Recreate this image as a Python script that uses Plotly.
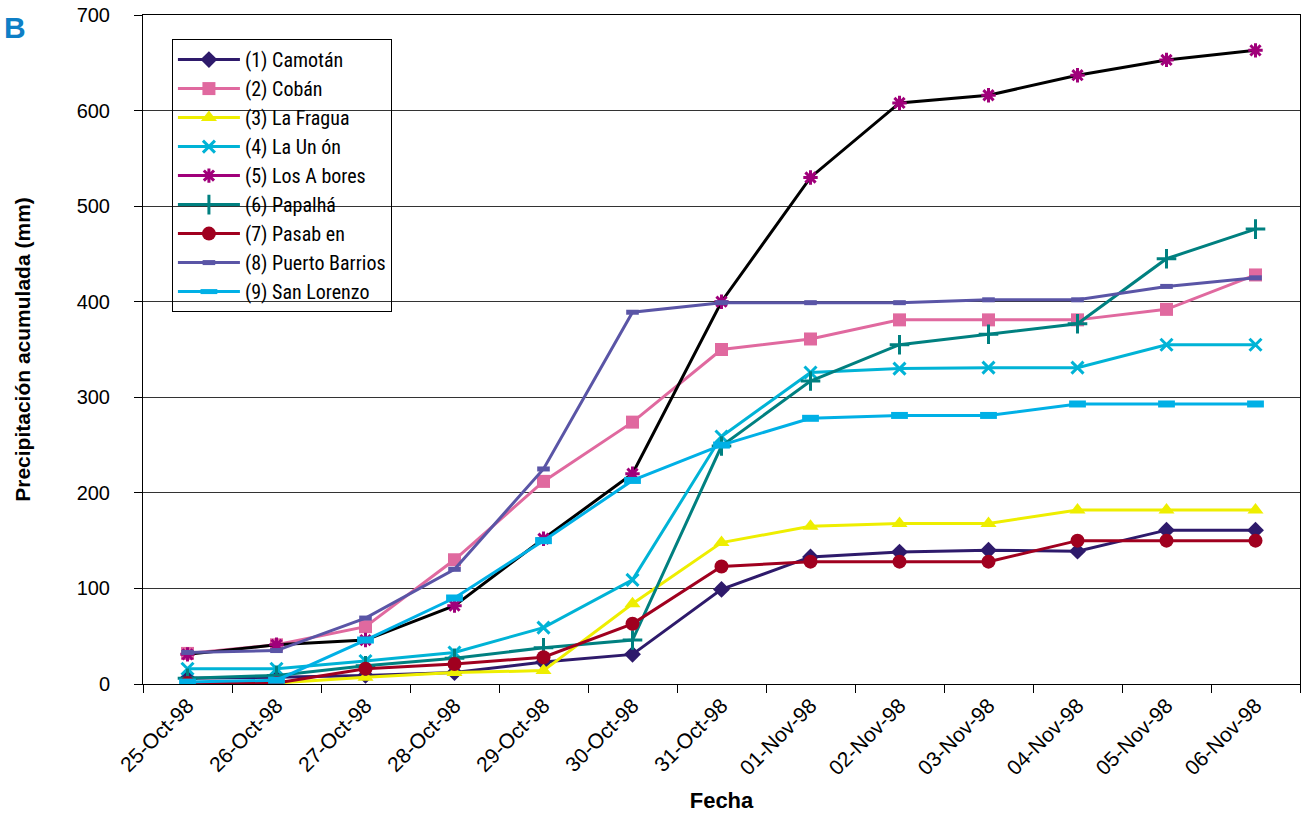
import plotly.graph_objects as go

# Fechas (eje de categorías)
fechas = ["25-Oct-98", "26-Oct-98", "27-Oct-98", "28-Oct-98", "29-Oct-98",
          "30-Oct-98", "31-Oct-98", "01-Nov-98", "02-Nov-98", "03-Nov-98",
          "04-Nov-98", "05-Nov-98", "06-Nov-98"]

# Precipitación acumulada (mm) por estación
camotan = [6, 7, 9, 12, 23, 31, 99, 133, 138, 140, 139, 161, 161]
coban = [32, 41, 60, 130, 212, 274, 350, 361, 381, 381, 381, 392, 428]
la_fragua = [0, 1, 7, 12, 14, 84, 148, 165, 168, 168, 182, 182, 182]
la_union = [16, 16, 24, 33, 59, 109, 259, 326, 330, 331, 331, 355, 355]
los_arbores = [31, 41, 46, 82, 152, 220, 400, 530, 608, 616, 637, 653, 663]
papalha = [6, 9, 19, 27, 38, 46, 249, 317, 355, 366, 377, 445, 476]
pasabien = [1, 1, 16, 21, 28, 63, 123, 128, 128, 128, 150, 150, 150]
puerto_barrios = [33, 35, 69, 120, 225, 389, 399, 399, 399, 402, 402, 416, 425]
san_lorenzo = [2, 4, 46, 90, 150, 213, 250, 278, 281, 281, 293, 293, 293]

nombres = ["(1) Camotán", "(2) Cobán", "(3) La Fragua", "(4) La Un ón",
           "(5) Los A bores", "(6) Papalhá", "(7) Pasab en",
           "(8) Puerto Barrios", "(9) San Lorenzo"]

fig = go.Figure()

def serie(y, name, color, symbol, size, mline=None, lw=3, show=True, mcolor=None):
    fig.add_trace(go.Scatter(
        x=fechas, y=y, name=name, mode="lines+markers",
        line=dict(color=color, width=lw),
        marker=dict(symbol=symbol, size=size, color=mcolor or color,
                    line=dict(color=mcolor or color, width=mline or 0)),
        showlegend=show,
    ))

serie(camotan, nombres[0], "#2E1A6B", "diamond", 13)
serie(coban, nombres[1], "#E0699F", "square", 13)
serie(la_fragua, nombres[2], "#EEEE00", "triangle-up", 14)
serie(la_union, nombres[3], "#00B3D6", "x-thin", 12, mline=3)
# Los Arbores: línea negra con asteriscos morados
serie(los_arbores, nombres[4], "#000000", "asterisk", 12, mline=3,
      show=False, mcolor="#A0007A")
fig.add_trace(go.Scatter(
    x=[None], y=[None], name=nombres[4], mode="lines+markers",
    line=dict(color="#A0007A", width=3),
    marker=dict(symbol="asterisk", size=12, color="#A0007A",
                line=dict(color="#A0007A", width=3)),
))
serie(papalha, nombres[5], "#008080", "cross-thin", 14, mline=3)
serie(pasabien, nombres[6], "#A0001F", "circle", 14)
serie(puerto_barrios, nombres[7], "#5A55A6", "line-ew", 9, mline=5)
serie(san_lorenzo, nombres[8], "#00B0E6", "line-ew", 12, mline=7)

fig.update_layout(
    width=1306, height=813,
    margin=dict(l=143, r=6, t=15, b=129),
    paper_bgcolor="white", plot_bgcolor="white",
    font=dict(family="Liberation Sans, Arial, sans-serif", color="#000000"),
    showlegend=True,
    legend=dict(
        x=0.025, y=0.964, xanchor="left", yanchor="top",
        bgcolor="rgba(0,0,0,0)", bordercolor="#000000", borderwidth=1,
        font=dict(family="Liberation Sans Narrow, Roboto Condensed, Liberation Sans",
                  size=20, color="#000000"),
        itemwidth=62, tracegroupgap=0,
    ),
    xaxis=dict(
        type="category", categoryorder="array", categoryarray=fechas,
        range=[-0.5, len(fechas) - 0.5], automargin=False,
        tickangle=-45, tickfont=dict(size=21),
        ticks="outside", ticklen=8, tickcolor="#000000", tickson="boundaries",
        showline=True, linecolor="#000000", linewidth=1, mirror=True,
        showgrid=False,
        title=dict(text="<b>Fecha</b>", font=dict(size=22), standoff=16),
    ),
    yaxis=dict(
        range=[0, 700], dtick=100, tickfont=dict(size=20), automargin=False,
        ticks="outside", ticklen=8, tickcolor="#000000",
        showline=True, linecolor="#000000", linewidth=1, mirror=True,
        showgrid=True, gridcolor="#333333", gridwidth=1,
        zeroline=False, ticklabelstandoff=20,
        title=dict(text="<b>Precipitación acumulada (mm)</b>", font=dict(size=21),
                   standoff=40),
    ),
)

# Letra del panel
fig.add_annotation(
    text="<b>B</b>", xref="paper", yref="paper",
    x=(15 - 143) / 1157, y=(684 - 27) / 669,
    xanchor="center", yanchor="middle", showarrow=False,
    font=dict(size=30, color="#0E7FC6", family="Liberation Sans, Arial"),
)

fig.write_html("out.html")
